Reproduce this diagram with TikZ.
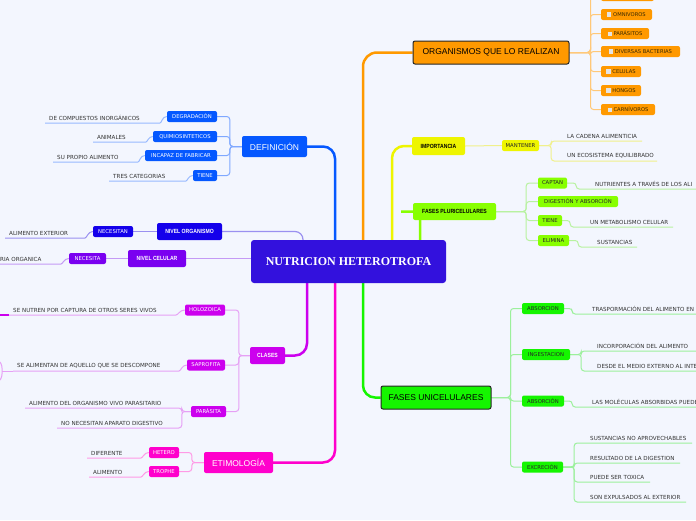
\documentclass[tikz,border=0pt]{standalone}
\usepackage{fontspec}
\setmainfont{Liberation Sans}
\newfontfamily\smallfont{DejaVu Sans}
\newfontfamily\condfont{Liberation Sans}[FakeStretch=0.85]
\newfontfamily\serifbold{Liberation Serif}
\usetikzlibrary{backgrounds}
\definecolor{bgC}{HTML}{F3F6FE}
\definecolor{cenC}{HTML}{3311DD}
\definecolor{defC}{HTML}{0558FF}
\definecolor{defL}{HTML}{7FA8FF}
\definecolor{norgC}{HTML}{1400EB}
\definecolor{norgL}{HTML}{9A90F0}
\definecolor{ncelC}{HTML}{7A00F0}
\definecolor{ncelL}{HTML}{C49AF5}
\definecolor{claC}{HTML}{CC00EE}
\definecolor{claL}{HTML}{E6A0F5}
\definecolor{etiC}{HTML}{FF00CC}
\definecolor{etiL}{HTML}{FF9AE6}
\definecolor{orgC}{HTML}{FF9900}
\definecolor{orgL}{HTML}{FFC878}
\definecolor{impC}{HTML}{EEF500}
\definecolor{impL}{HTML}{F0F08C}
\definecolor{pluC}{HTML}{88FF00}
\definecolor{pluL}{HTML}{B8F2A0}
\definecolor{uniC}{HTML}{15F500}
\definecolor{uniL}{HTML}{9CF09C}
\definecolor{leafT}{HTML}{333333}
\definecolor{chkC}{HTML}{E4E4E4}
\definecolor{orgT}{HTML}{3A2A00}
\newcommand\chk{{\color{chkC}\rule[-0.3pt]{4.2pt}{4.2pt}}\hspace{1.8pt}}
\begin{document}
\begin{tikzpicture}[x=1pt,y=-1pt,
  base/.style={rectangle, rounded corners=2pt, inner sep=0pt, anchor=center},
  sbox/.style={base, minimum height=11pt, font=\smallfont\fontsize{5.3}{6}\selectfont, text=white},
  obox/.style={base, fill=orgC, minimum height=11pt, font=\smallfont\fontsize{5.2}{6}\selectfont, text=orgT},
  lbl/.style={base, font=\fontsize{8.5}{10}\selectfont, text=white},
  cbx/.style={base, font=\condfont\bfseries\fontsize{6}{7}\selectfont},
  leaf/.style={font=\smallfont\fontsize{5.6}{6.6}\selectfont, text=leafT, inner xsep=4pt, inner ysep=2.3pt, anchor=south west},
  mainc/.style={line width=2.5pt, rounded corners=12pt},
  subc/.style={line width=1pt, rounded corners=3pt}]
\begin{pgfonlayer}{background}
\fill[bgC] (0,0) rectangle (696,520);
\end{pgfonlayer}
\useasboundingbox (0,0) rectangle (696,520);

% central
\node[base, fill=cenC, minimum width=195pt, minimum height=43pt, rounded corners=3pt, text=white, font=\serifbold\bfseries\fontsize{12}{14}\selectfont] (cen) at (348.5,261.5) {NUTRICION HETEROTROFA};

% DEFINICION
\node[lbl, fill=defC, minimum width=65pt, minimum height=21pt] (def) at (274.5,146.5) {DEFINICIÓN};
\node[sbox, fill=defC, minimum width=50pt] (deg) at (192,116.5) {DEGRADACIÓN};
\node[sbox, fill=defC, minimum width=64pt] (qui) at (185,136.5) {QUIMIOSINTETICOS};
\node[sbox, fill=defC, minimum width=72pt] (inc) at (181,155.5) {INCAPAZ DE FABRICAR};
\node[sbox, fill=defC, minimum width=24pt] (tie) at (205,175.5) {TIENE};
\node[leaf] (ldeg) at (45,123) {DE COMPUESTOS INORGÁNICOS};
\node[leaf] (lqui) at (93,142) {ANIMALES};
\node[leaf] (linc) at (53,162) {SU PROPIO ALIMENTO};
\node[leaf] (ltie) at (109,181) {TRES CATEGORIAS};

% NIVEL ORGANISMO / CELULAR
\node[cbx, fill=norgC, text=white, minimum width=65pt, minimum height=17pt] (norg) at (189.5,231.5) {NIVEL ORGANISMO};
\node[sbox, fill=norgC, minimum width=40pt] (nec1) at (113,231.5) {NECESITAN};
\node[leaf] (lnec1) at (5,238) {ALIMENTO EXTERIOR};
\node[cbx, fill=ncelC, text=white, minimum width=58pt, minimum height=17pt] (ncel) at (157,258.5) {NIVEL CELULAR};
\node[sbox, fill=ncelC, minimum width=37pt] (nec2) at (87.5,258.5) {NECESITA};
\node[leaf] (lnec2) at (-4,264) {RIA ORGANICA};

% CLASES
\node[cbx, fill=claC, text=white, minimum width=35pt, minimum height=17pt] (cla) at (267.5,355.5) {CLASES};
\node[sbox, fill=claC, minimum width=40pt] (hol) at (205,310) {HOLOZOICA};
\node[sbox, fill=claC, minimum width=38pt] (sap) at (206,365) {SAPROFITA};
\node[sbox, fill=claC, minimum width=35pt] (par) at (208.5,411.5) {PARÁSITA};
\node[leaf] (lhol) at (9,315) {SE NUTREN POR CAPTURA DE OTROS SERES VIVOS};
\node[leaf] (lsap) at (13,371) {SE ALIMENTAN DE AQUELLO QUE SE DESCOMPONE};
\node[leaf] (lpar1) at (25,408) {ALIMENTO DEL ORGANISMO VIVO PARASITARIO};
\node[leaf] (lpar2) at (57,428) {NO NECESITAN APARATO DIGESTIVO};
\coordinate (offh) at (-10,315);
\coordinate (offs1) at (-4,360);
\coordinate (offs2) at (-4,382);

% ETIMOLOGIA
\node[lbl, fill=etiC, minimum width=69pt, minimum height=21pt] (eti) at (238.5,462.5) {ETIMOLOGÍA};
\node[sbox, fill=etiC, minimum width=30pt] (het) at (164,452.5) {HETERO};
\node[sbox, fill=etiC, minimum width=30pt] (tro) at (164,471.5) {TROPHE};
\node[leaf] (lhet) at (87,458) {DIFERENTE};
\node[leaf] (ltro) at (89,477) {ALIMENTO};

% ORGANISMOS
\node[lbl, fill=orgC, draw=black!85, line width=1pt, text=black, minimum width=156pt, minimum height=23pt] (org) at (491,52.5) {ORGANISMOS QUE LO REALIZAN};
\node[obox, minimum width=53pt] (o0) at (627.5,-4.5) {};
\node[obox, minimum width=51pt] (o1) at (626.5,14.5) {\chk OMNIVOROS};
\node[obox, minimum width=48pt] (o2) at (625,33.5) {\chk PARÁSITOS};
\node[obox, minimum width=79pt] (o3) at (640.5,51.5) {\chk DIVERSAS BACTERIAS};
\node[obox, minimum width=40pt] (o4) at (621,71.5) {\chk CELULAS};
\node[obox, minimum width=40pt] (o5) at (621,90.5) {\chk HONGOS};
\node[obox, minimum width=54pt] (o6) at (628,109.5) {\chk CARNÍVOROS};

% IMPORTANCIA
\node[cbx, fill=impC, text=black, minimum width=53pt, minimum height=18pt] (imp) at (438.5,146) {IMPORTANCIA};
\node[sbox, fill=impC, text=black!85, minimum width=37pt] (man) at (520.5,145.5) {MANTENER};
\node[leaf] (lman1) at (563,141) {LA CADENA ALIMENTICIA};
\node[leaf] (lman2) at (563,161) {UN ECOSISTEMA EQUILIBRADO};

% FASES PLURICELULARES
\node[cbx, fill=pluC, text=black, minimum width=83pt, minimum height=17pt] (plu) at (454.5,211.5) {FASES PLURICELULARES};
\coordinate (pluend) at (401,211.5);
\node[sbox, fill=pluC, text=black!85, minimum width=29pt] (cap) at (552.5,183) {CAPTAN};
\node[sbox, fill=pluC, text=black!85, minimum width=80pt] (dig) at (578,201.5) {DIGESTIÓN Y ABSORCIÓN};
\node[sbox, fill=pluC, text=black!85, minimum width=24pt] (tie2) at (550,220.5) {TIENE};
\node[sbox, fill=pluC, text=black!85, minimum width=31pt] (eli) at (553.5,240.5) {ELIMINA};
\node[leaf] (lcap) at (591,189) {NUTRIENTES A TRAVÉS DE LOS ALI};
\node[leaf] (ltie2) at (586,227) {UN METABOLISMO CELULAR};
\node[leaf] (leli) at (593,247) {SUSTANCIAS};

% FASES UNICELULARES
\node[lbl, fill=uniC, draw=black!85, line width=1pt, text=black, minimum width=110pt, minimum height=23pt] (uni) at (436,397.5) {FASES UNICELULARES};
\node[sbox, fill=uniC, text=black!85, minimum width=42pt] (ab1) at (543,308.5) {ABSORCION};
\node[sbox, fill=uniC, text=black!85, minimum width=48pt] (ing) at (546,354.5) {INGESTACION};
\node[sbox, fill=uniC, text=black!85, minimum width=42pt] (ab2) at (543,401) {ABSORCIÓN};
\node[sbox, fill=uniC, text=black!85, minimum width=41pt] (exc) at (542.5,467) {EXCRECIÓN};
\node[leaf] (lab1) at (588,314) {TRASPORMACIÓN DEL ALIMENTO EN};
\node[leaf] (ling1) at (593,351) {INCORPORACIÓN DEL ALIMENTO};
\node[leaf] (ling2) at (593,371) {DESDE EL MEDIO EXTERNO AL INTE};
\node[leaf] (lab2) at (588,407) {LAS MOLÉCULAS ABSORBIDAS PUEDE};
\node[leaf] (lexc1) at (586,443) {SUSTANCIAS NO APROVECHABLES};
\node[leaf] (lexc2) at (586,463) {RESULTADO DE LA DIGESTION};
\node[leaf] (lexc3) at (586,482) {PUEDE SER TOXICA};
\node[leaf] (lexc4) at (586,502) {SON EXPULSADOS AL EXTERIOR};

\begin{pgfonlayer}{background}
% main branches
\draw[mainc, defC] (def.east) -| ([xshift=-13.5pt]cen.north);
\draw[line width=1.2pt, rounded corners=8pt, norgL] (norg.east) -| ([xshift=-45.5pt]cen.north);
\draw[line width=1.2pt, ncelL] (ncel.east) -- (ncel.east -| cen.west);
\draw[mainc, claC] (cla.east) -| ([xshift=-41.5pt]cen.south);
\draw[mainc, etiC] (eti.east) -| ([xshift=-13.5pt]cen.south);
\draw[mainc, orgC, rounded corners=14pt] (org.west) -| ([xshift=14.5pt]cen.north);
\draw[mainc, impC] (imp.west) -| ([xshift=43.5pt]cen.north);
\draw[mainc, pluC, rounded corners=8pt] ([xshift=71.5pt]cen.north) |- (pluend);
\draw[mainc, uniC] (uni.west) -| ([xshift=14.5pt]cen.south);

% DEFINICION sub
\foreach \c in {deg,qui,inc,tie} \draw[subc, defL] (def.west) -- ++(-12,0) |- (\c.east);
\draw[subc, defL!80] (ldeg.south west) -- ++(112,0) to[out=0,in=180] (deg.west);
\draw[subc, defL!80] (lqui.south west) -- ++(50,0) to[out=0,in=180] (qui.west);
\draw[subc, defL!80] (linc.south west) -- ++(82,0) to[out=0,in=180] (inc.west);
\draw[subc, defL!80] (ltie.south west) -- ++(74,0) to[out=0,in=180] (tie.west);

% NIVEL sub
\draw[subc, norgL] (norg.west) -- (nec1.east);
\draw[subc, norgL] (lnec1.south west) -- ++(77,0) to[out=0,in=180] (nec1.west);
\draw[subc, ncelL] (ncel.west) -- (nec2.east);
\draw[subc, ncelL] (lnec2.south west) -- ++(62,0) to[out=0,in=180] (nec2.west);

% CLASES sub
\foreach \c in {hol,sap,par} \draw[subc, claL] (cla.west) -- ++(-11,0) |- (\c.east);
\draw[subc, claL] (lhol.south west) -- ++(164,0) to[out=0,in=180] (hol.west);
\draw[line width=1.5pt, claC] (offh) -- (lhol.south west);
\draw[subc, claL] (lsap.south west) -- ++(163,0) to[out=0,in=180] (sap.west);
\draw[subc, claL] (lsap.south west) -- ++(-11,0);
\draw[subc, claL] (offs1) to[out=0,in=90] ([xshift=-11pt]lsap.south west) to[out=-90,in=0] (offs2);
\draw[subc, claL] (par.west) -- ++(-9,0) |- (lpar1.south west);
\draw[subc, claL] (par.west) -- ++(-9,0) |- (lpar2.south west);

% ETIMOLOGIA sub
\foreach \c in {het,tro} \draw[subc, etiL] (eti.west) -- ++(-12,0) |- (\c.east);
\draw[subc, etiL] (lhet.south west) -- ++(51,0) to[out=0,in=180] (het.west);
\draw[subc, etiL] (ltro.south west) -- ++(49,0) to[out=0,in=180] (tro.west);

% ORGANISMOS sub
\foreach \c in {o0,o1,o2,o3,o4,o5,o6} \draw[subc, orgL] (org.east) -- ++(21,0) |- (\c.west);

% IMPORTANCIA sub
\draw[subc, impL] (imp.east) -- (man.west);
\draw[subc, impL] (man.east) -- ++(12,0) |- (lman1.south west) -- ++(79,0);
\draw[subc, impL] (man.east) -- ++(12,0) |- (lman2.south west) -- ++(94,0);

% PLURI sub
\foreach \c in {cap,dig,tie2,eli} \draw[subc, pluL] (plu.east) -- ++(30,0) |- (\c.west);
\draw[subc, pluL] (cap.east) -- ++(9,0) |- (lcap.south west) -- ++(120,0);
\draw[subc, pluL] (tie2.east) -- ++(8,0) |- (ltie2.south west) -- ++(87,0);
\draw[subc, pluL] (eli.east) -- ++(9,0) |- (leli.south west) -- ++(44,0);

% UNI sub
\foreach \c in {ab1,ing,ab2,exc} \draw[subc, uniL] (uni.east) -- ++(19,0) |- (\c.west);
\draw[subc, uniL] (ab1.east) -- ++(8,0) |- (lab1.south west) -- ++(120,0);
\draw[subc, uniL] (ing.east) -- ++(11,0) |- (ling1.south west) -- ++(110,0);
\draw[subc, uniL] (ing.east) -- ++(11,0) |- (ling2.south west) -- ++(110,0);
\draw[subc, uniL] (ab2.east) -- ++(8,0) |- (lab2.south west) -- ++(120,0);
\draw[subc, uniL] (exc.east) -- ++(11,0) |- (lexc1.south west) -- ++(106,0);
\draw[subc, uniL] (exc.east) -- ++(11,0) |- (lexc2.south west) -- ++(94,0);
\draw[subc, uniL] (exc.east) -- ++(11,0) |- (lexc3.south west) -- ++(64,0);
\draw[subc, uniL] (exc.east) -- ++(11,0) |- (lexc4.south west) -- ++(100,0);
\end{pgfonlayer}
\end{tikzpicture}
\end{document}
